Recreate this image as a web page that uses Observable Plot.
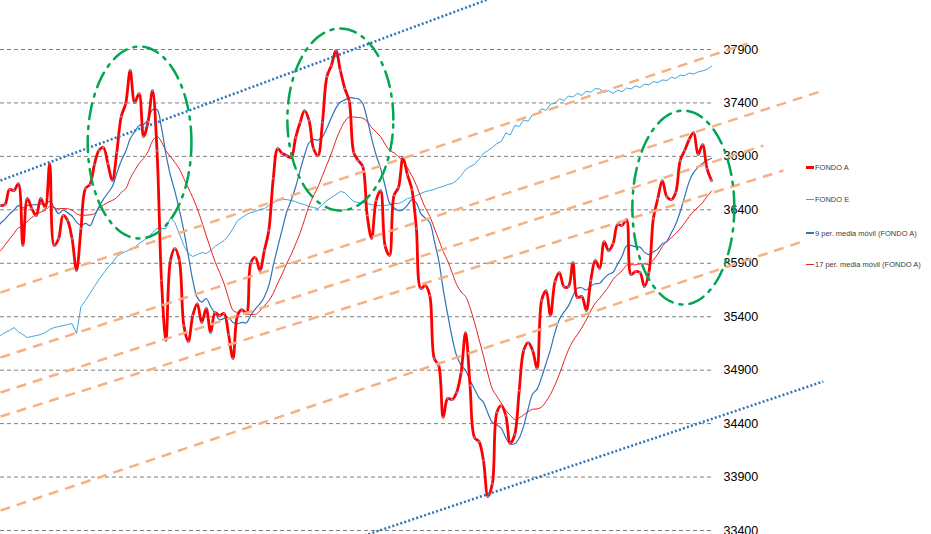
<!DOCTYPE html>
<html><head><meta charset="utf-8">
<script src="https://cdn.jsdelivr.net/npm/d3@7"></script>
<script src="https://cdn.jsdelivr.net/npm/@observablehq/plot@0.6"></script>
<style>
body{margin:0;background:#fff;}
#wrap{position:relative;width:931px;height:534px;overflow:hidden;background:#fff;}
.lg{position:absolute;left:806px;display:flex;align-items:center;font:7.5px "Liberation Sans",Arial,sans-serif;color:#404040;white-space:nowrap;}
.sw{display:inline-block;width:8px;margin-right:1px;}
</style></head><body><div id="wrap"></div>
<script>
// ---- data ----
const yTicks = [33400,33900,34400,34900,35400,35900,36400,36900,37400,37900];
const legendLabels = ["FONDO A","FONDO E","9 per. media móvil (FONDO A)","17 per. media móvil (FONDO A)"];
// FONDO A values before the visible window (needed for the moving averages)
const fondoAWarmup = [35552,35645,35692,35739,35786,35739,35832,35851,36113,36160,36225,36281,36253,36319,36347,36328];
const fondoA = [36440,36449,36590,36580,36646,36066,36506,36412,36347,36506,
36421,36833,36066,36131,36347,36300,36131,35832,36225,36599,
36637,36824,36955,36983,36833,36674,36936,37273,37395,37704,
37404,37488,37086,37226,37516,36955,35739,35177,35926,36038,
35926,35318,35168,35411,35523,35346,35477,35252,35439,35411,
35430,35233,35009,35411,35467,35430,35907,35954,35832,36019,
36206,36693,36973,36927,36908,36889,37076,37217,37329,37236,
36973,36908,37217,37647,37750,37891,37704,37535,37414,36936,
36861,36805,36347,36131,36487,36580,36066,35972,36534,36609,
36889,36730,36590,36225,35664,35692,35598,35009,34943,34457,
34635,34625,34691,34878,35252,34756,34270,34232,34055,33718,
33839,34504,34569,34476,34214,34298,34709,35084,35158,35084,
34915,35551,35645,35411,35729,35813,35682,35682,35907,35579,
35589,35458,35739,35926,35851,36103,36019,36085,36262,36253,
36309,35795,35823,35813,35682,35813,36319,36506,36674,36524,
36496,36562,36861,36955,37058,37123,36917,37011,36786,36674];
const fondoE = [35224,35252,35271,35299,35261,35233,35205,35215,35224,35233,
35252,35280,35299,35308,35317,35327,35336,35243,35495,35551,
35617,35682,35748,35804,35860,35907,35963,35991,36010,36028,
36047,36085,36113,36141,36188,36225,36225,36225,36328,36281,
36178,36066,35991,35963,35982,36000,35991,36019,36057,36085,
36113,36160,36225,36300,36328,36356,36375,36384,36403,36412,
36440,36468,36487,36496,36496,36487,36478,36459,36449,36431,
36421,36412,36449,36487,36515,36543,36571,36562,36515,36478,
36468,36468,36459,36449,36440,36440,36440,36449,36459,36459,
36478,36506,36515,36534,36552,36571,36580,36590,36609,36618,
36637,36646,36674,36721,36777,36805,36824,36871,36927,36955,
36983,37020,37040,37120,37100,37190,37180,37240,37230,37290,
37300,37345,37330,37390,37395,37440,37420,37465,37455,37490,
37470,37510,37500,37535,37530,37500,37515,37490,37520,37505,
37540,37530,37560,37545,37575,37570,37600,37590,37615,37610,
37640,37630,37660,37655,37680,37670,37690,37700,37715,37745];
// trend lines (index, value)
const orangeTrends = [
  {x1:0, y1:35626, x2:167.0, y2:37956},
  {x1:0, y1:35018, x2:184.0, y2:37516},
  {x1:0, y1:34691, x2:170.6, y2:37001},
  {x1:0, y1:34466, x2:175.1, y2:36768},
  {x1:0, y1:33587, x2:180.0, y2:36113}
];
const blueTrends = [
  {x1:0, y1:36674, x2:134.2, y2:38760},
  {x1:80.5, y1:33340, x2:184.0, y2:34794}
];
// highlighted zones (center index, center value, radius in index, radius in value)
const zones = [
  {cx:31.1, cy:37030, rx:11.6, ry:898},
  {cx:76.0, cy:37245, rx:11.85, ry:851},
  {cx:152.7, cy:36421, rx:11.4, ry:907}
];

// ---- build ----
const seriesA = fondoAWarmup.concat(fondoA);
const rowsA = seriesA.map((v,k)=>({i:k-fondoAWarmup.length, v}));
const shownA = rowsA.filter(d=>d.i>=0);
const rowsE = fondoE.map((v,i)=>({i,v}));
const zonePts = zones.flatMap((e,k)=>d3.range(0,145).map(j=>{const t=j/144*2*Math.PI;return {k,x:e.cx+e.rx*Math.cos(t),y:e.cy+e.ry*Math.sin(t)};}));

const chart = Plot.plot({
  width:931, height:534,
  marginLeft:0, marginRight:220, marginTop:49, marginBottom:4,
  style:{background:"#fff", color:"#000", fontFamily:"'Liberation Sans', Arial, sans-serif"},
  x:{domain:[0,fondoA.length-1], axis:null},
  y:{domain:[33400,37900]},
  marks:[
    Plot.gridY(yTicks,{stroke:"#7f7f7f", strokeOpacity:1, strokeWidth:1, strokeDasharray:"4,3"}),
    Plot.axisY(yTicks,{anchor:"right", tickSize:0, tickPadding:12, fontSize:12.5, tickFormat:d=>String(d)}),
    Plot.line(rowsE,{x:"i", y:"v", stroke:"#3ea6de", strokeWidth:1}),
    Plot.line(rowsA, Plot.windowY({k:17, anchor:"end"}, {x:"i", y:"v", stroke:"#e8231e", strokeWidth:1, curve:"catmull-rom"})),
    Plot.line(rowsA, Plot.windowY({k:9, anchor:"end"}, {x:"i", y:"v", stroke:"#2f73b8", strokeWidth:1.2, curve:"catmull-rom"})),
    Plot.line(shownA,{x:"i", y:"v", stroke:"#ff0000", strokeWidth:2.8, curve:"catmull-rom"}),
    Plot.dot(shownA,{x:"i", y:"v", r:1.1, fill:"#8c8cc8", stroke:null}),
    Plot.link(orangeTrends,{x1:"x1", y1:"y1", x2:"x2", y2:"y2", stroke:"#f4b183", strokeWidth:2.5, strokeDasharray:"10,7"}),
    Plot.link(blueTrends,{x1:"x1", y1:"y1", x2:"x2", y2:"y2", stroke:"#2e75b6", strokeWidth:2.5, strokeDasharray:"2,2.2"}),
    Plot.line(zonePts,{x:"x", y:"y", z:"k", stroke:"#00a650", strokeWidth:2.5, strokeDasharray:"16,7,3,7"})
  ]
});
const wrap = document.getElementById("wrap");
wrap.appendChild(chart);
const swatches = [["#ff0000",3],["#3ea6de",1],["#2f73b8",1.2],["#e8231e",1]];
const tops = [167,199,233,264];
legendLabels.forEach((t,k)=>{
  const d = document.createElement("div");
  d.className="lg";
  d.style.top=(tops[k]-5)+"px";
  d.style.height="10px";
  d.innerHTML=`<span class="sw" style="background:${swatches[k][0]};height:${swatches[k][1]}px"></span>${t}`;
  wrap.appendChild(d);
});
</script></body></html>
